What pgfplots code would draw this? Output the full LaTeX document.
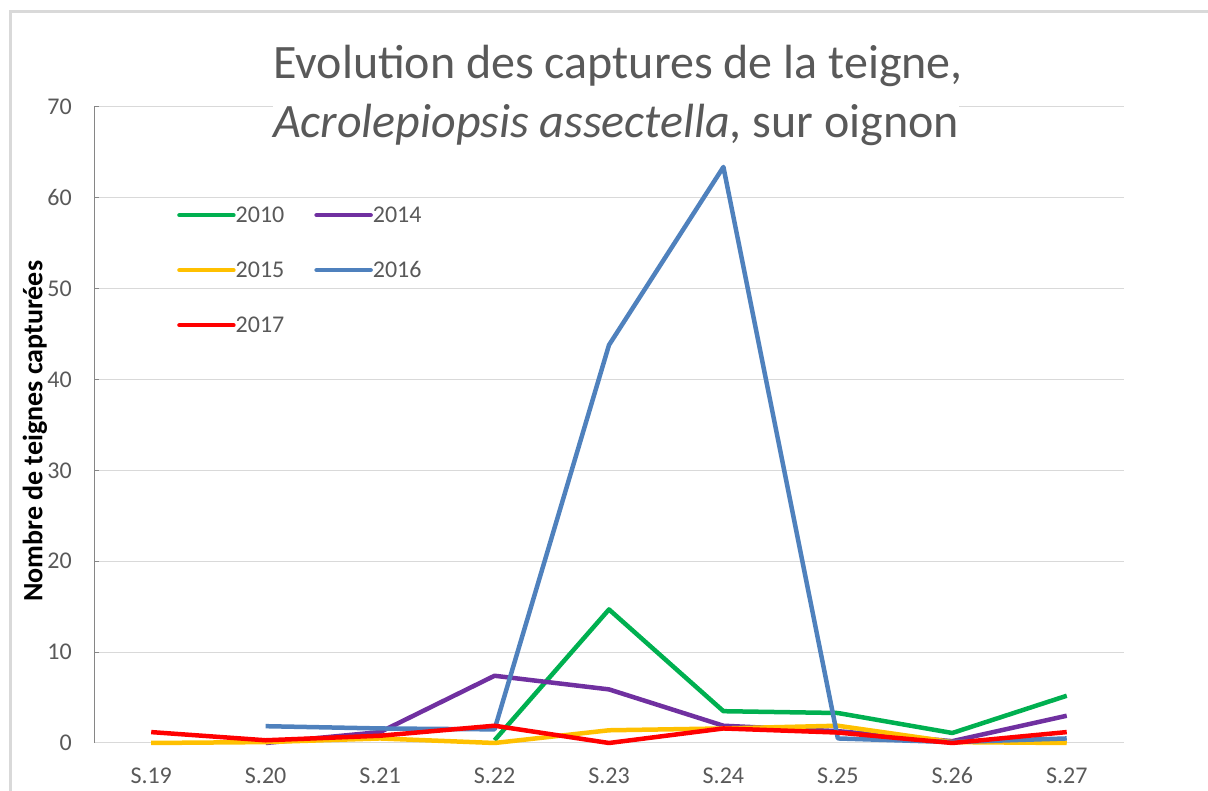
\documentclass[border=0pt]{standalone}
\usepackage{pgfplots}
\pgfplotsset{compat=1.18}
\usepackage{fontspec}
\setmainfont{Carlito}
\definecolor{cgreen}{HTML}{00B050}
\definecolor{cpurple}{HTML}{7030A0}
\definecolor{cyellow}{HTML}{FFC000}
\definecolor{cblue}{HTML}{4F81BD}
\definecolor{cred}{HTML}{FF0000}
\definecolor{ctext}{HTML}{595959}
\definecolor{cgrid}{HTML}{D9D9D9}
\definecolor{caxis}{HTML}{868686}
\begin{document}
\begin{tikzpicture}[x=1bp,y=1bp]
\path[use as bounding box] (0,0) rectangle (1208,791);
\draw[cgrid, line width=3bp] (10.5,0) -- (10.5,779) -- (1208,779);
\begin{axis}[
  at={(94bp,48bp)}, anchor=south west,
  scale only axis, width=1030bp, height=636bp,
  xmin=-0.5, xmax=8.5, ymin=0, ymax=70,
  xtick={0,1,2,3,4,5,6,7,8},
  xticklabels={S.19,S.20,S.21,S.22,S.23,S.24,S.25,S.26,S.27},
  ytick={0,10,20,30,40,50,60,70},
  axis x line*=bottom, axis y line*=left,
  x axis line style={cgrid, line width=1bp, -},
  y axis line style={caxis, line width=1bp, -},
  ymajorgrids, grid style={cgrid, line width=1bp},
  x tick style={draw=none},
  y tick style={caxis, line width=1bp},
  major tick length=5bp, tick align=inside,
  /pgf/number format/assume math mode=true,
  tick label style={font=\fontsize{24bp}{29bp}\selectfont, text=ctext, inner sep=0pt},
  xticklabel style={anchor=north, yshift=-24bp, text height=16bp, text depth=0pt},
  yticklabel style={anchor=east, xshift=-22bp},
  ylabel={Nombre de teignes capturées},
  ylabel style={at={(rel axis cs:0,0.49)}, anchor=center, yshift=59bp, xshift=0bp,
    font=\fontsize{28bp}{33bp}\selectfont\bfseries, text=black},
  legend columns=2,
  legend style={at={(0.0806,0.842)}, anchor=north west, draw=none, fill=none,
    font=\fontsize{24bp}{29bp}\selectfont, text=ctext, inner sep=0pt,
    row sep=40bp,
    nodes={inner sep=0pt, text height=15bp, text depth=0bp},
    /tikz/every even column/.append style={column sep=30bp}},
  legend image code/.code={\draw[#1, line width=4.5bp, line cap=round] (0bp,0bp) -- (54bp,0bp);},
  every axis plot/.append style={line width=4.5bp, line join=round},
  clip=false,
]
\addplot[cgreen] coordinates {(3,0.3)(4,14.7)(5,3.5)(6,3.3)(7,1.1)(8,5.2)};
\addlegendentry{2010}
\addplot[cpurple] coordinates {(1,0)(2,1.2)(3,7.4)(4,5.9)(5,1.9)(6,1.3)(7,0.2)(8,3.0)};
\addlegendentry{2014}
\addplot[cyellow] coordinates {(0,0)(1,0.1)(2,0.5)(3,0)(4,1.4)(5,1.6)(6,1.9)(7,0.1)(8,0)};
\addlegendentry{2015}
\addplot[cblue] coordinates {(1,1.85)(2,1.6)(3,1.5)(4,43.8)(5,63.4)(6,0.5)(7,0.1)(8,0.5)};
\addlegendentry{2016}
\addplot[cred] coordinates {(0,1.2)(1,0.3)(2,0.8)(3,1.9)(4,0)(5,1.6)(6,1.15)(7,0)(8,1.2)};
\addlegendentry{2017}
\end{axis}
\node[anchor=base, text=ctext, font=\fontsize{48bp}{60bp}\selectfont] at (618,712) {Evolution des captures de la teigne,};
\node[anchor=base, text=ctext, fill=white, inner sep=0pt, font=\fontsize{48bp}{60bp}\selectfont] at (616,653) {\textit{Acrolepiopsis assectella}, sur oignon};
\end{tikzpicture}
\end{document}
